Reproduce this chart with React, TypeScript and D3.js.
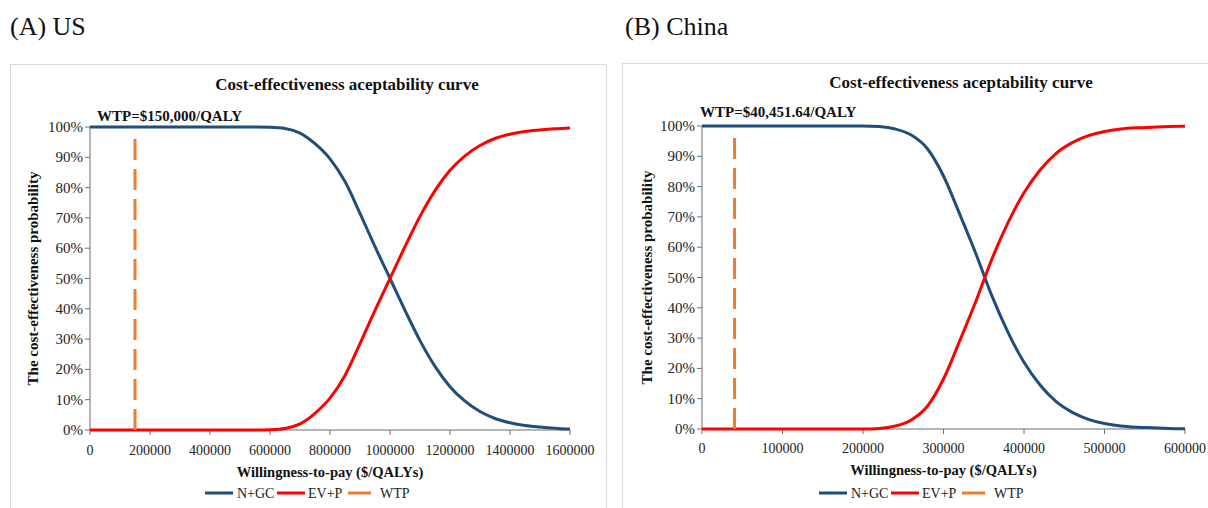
import React from "react";
import * as d3 from "d3";

// ---------- DATA ----------
const usWtp = [0, 50000, 100000, 150000, 200000, 250000, 300000, 350000, 400000, 450000, 500000, 550000, 600000, 650000, 700000, 750000, 800000, 850000, 900000, 950000, 1000000, 1050000, 1100000, 1150000, 1200000, 1250000, 1300000, 1350000, 1400000, 1450000, 1500000, 1550000, 1600000];
const usNGC = [1, 1, 1, 1, 1, 1, 1, 1, 1, 1, 1, 1, 0.999, 0.995, 0.98, 0.945, 0.895, 0.82, 0.715, 0.605, 0.5, 0.395, 0.295, 0.21, 0.143, 0.095, 0.061, 0.038, 0.024, 0.015, 0.01, 0.006, 0.003];
const usEVP = [0, 0, 0, 0, 0, 0, 0, 0, 0, 0, 0, 0, 0.001, 0.005, 0.02, 0.055, 0.105, 0.18, 0.285, 0.395, 0.5, 0.605, 0.705, 0.79, 0.857, 0.905, 0.939, 0.962, 0.976, 0.985, 0.99, 0.994, 0.997];

const cnWtp = [0, 20000, 40000, 60000, 80000, 100000, 120000, 140000, 160000, 180000, 200000, 220000, 240000, 260000, 280000, 300000, 320000, 340000, 360000, 380000, 400000, 420000, 440000, 460000, 480000, 500000, 520000, 540000, 560000, 580000, 600000];
const cnNGC = [1, 1, 1, 1, 1, 1, 1, 1, 1, 1, 1, 0.998, 0.99, 0.97, 0.925, 0.835, 0.71, 0.58, 0.44, 0.32, 0.22, 0.145, 0.09, 0.055, 0.032, 0.018, 0.01, 0.006, 0.004, 0.002, 0.001];
const cnEVP = [0, 0, 0, 0, 0, 0, 0, 0, 0, 0, 0, 0.002, 0.01, 0.03, 0.075, 0.165, 0.29, 0.42, 0.56, 0.68, 0.78, 0.855, 0.91, 0.945, 0.968, 0.982, 0.99, 0.994, 0.996, 0.998, 0.999];

const usThreshold = 150000;
const cnThreshold = 40451.64;
const wtpLineTop = 0.97;

const usXTicks = [0, 200000, 400000, 600000, 800000, 1000000, 1200000, 1400000, 1600000];
const cnXTicks = [0, 100000, 200000, 300000, 400000, 500000, 600000];
const yTicks = [0, 0.1, 0.2, 0.3, 0.4, 0.5, 0.6, 0.7, 0.8, 0.9, 1];

const seriesNames = ["N+GC", "EV+P", "WTP"];
const chartTitle = "Cost-effectiveness aceptability curve";
const xTitle = "Willingness-to-pay ($/QALYs)";
const yTitle = "The cost-effectiveness probability";

const BLUE = "#1f4e79";
const RED = "#ff0000";
const ORANGE = "#ed7d31";
const FONT = "'Liberation Serif', 'Times New Roman', serif";

type PanelProps = {
  label: string;
  labelX: number;
  box: { x: number; y: number; w: number; h: number };
  plot: { x0: number; x1: number; yTop: number; yBot: number };
  xMax: number;
  xTicks: number[];
  wtp: number[];
  ngc: number[];
  evp: number[];
  threshold: number;
  wtpText: string;
  titleX: number;
  titleY: number;
  wtpTextX: number;
  wtpTextY: number;
  yTitleX: number;
  legendX: number;
  xTickY: number;
  xTitleY: number;
  legendY: number;
};

function Panel(p: PanelProps) {
  const x = d3.scaleLinear().domain([0, p.xMax]).range([p.plot.x0, p.plot.x1]);
  const y = d3.scaleLinear().domain([0, 1]).range([p.plot.yBot, p.plot.yTop]);
  const line = d3
    .line<[number, number]>()
    .x((d) => x(d[0]))
    .y((d) => y(d[1]))
    .curve(d3.curveMonotoneX);
  const ngcPath = line(p.wtp.map((w, i) => [w, p.ngc[i]] as [number, number])) || "";
  const evpPath = line(p.wtp.map((w, i) => [w, p.evp[i]] as [number, number])) || "";
  const axisColor = "#6f6f6f";
  const yMid = (p.plot.yTop + p.plot.yBot) / 2;

  const lx = p.legendX;
  const ly = p.legendY;
  const items = [
    { color: BLUE, name: seriesNames[0], lineW: 28, gap: 4, textW: 40 },
    { color: RED, name: seriesNames[1], lineW: 28, gap: 3, textW: 40 },
    { color: ORANGE, name: seriesNames[2], lineW: 23, gap: 9, textW: 40 },
  ];
  let cur = lx;
  const legendEls = items.map((it) => {
    const start = cur;
    const textStart = start + it.lineW + it.gap;
    cur = textStart + it.textW;
    return (
      <g key={it.name}>
        <line x1={start} x2={start + it.lineW} y1={ly} y2={ly} stroke={it.color} strokeWidth={3} />
        <text x={textStart} y={ly + 5} fontSize={14} fontFamily={FONT} fill="#222">
          {it.name}
        </text>
      </g>
    );
  });

  return (
    <g>
      <text x={p.labelX} y={35} fontSize={26} fontFamily={FONT} fill="#111">
        {p.label}
      </text>
      <rect x={p.box.x + 0.5} y={p.box.y + 0.5} width={p.box.w} height={p.box.h} fill="#fff" stroke="#d9d9d9" strokeWidth={1} />
      <text x={p.titleX} y={p.titleY} textAnchor="middle" fontSize={17} fontWeight="bold" fontFamily={FONT} fill="#111">
        {chartTitle}
      </text>
      <text x={p.wtpTextX} y={p.wtpTextY} fontSize={15} fontWeight="bold" fontFamily={FONT} fill="#111">
        {p.wtpText}
      </text>
      {/* y axis */}
      <line x1={p.plot.x0} x2={p.plot.x0} y1={p.plot.yTop} y2={p.plot.yBot} stroke={axisColor} strokeWidth={1} />
      {yTicks.map((t) => (
        <g key={"y" + t}>
          <line x1={p.plot.x0 - 5} x2={p.plot.x0} y1={y(t)} y2={y(t)} stroke={axisColor} />
          <text x={p.plot.x0 - 7} y={y(t) + 5} textAnchor="end" fontSize={15} fontFamily={FONT} fill="#222">
            {d3.format(".0%")(t)}
          </text>
        </g>
      ))}
      {/* x axis */}
      <line x1={p.plot.x0} x2={p.plot.x1} y1={p.plot.yBot} y2={p.plot.yBot} stroke={axisColor} strokeWidth={1} />
      {p.xTicks.map((t) => (
        <g key={"x" + t}>
          <line x1={x(t)} x2={x(t)} y1={p.plot.yBot} y2={p.plot.yBot + 5} stroke={axisColor} />
          <text x={x(t)} y={p.xTickY} textAnchor="middle" fontSize={14} fontFamily={FONT} fill="#222">
            {String(t)}
          </text>
        </g>
      ))}
      <text x={(p.plot.x0 + p.plot.x1) / 2} y={p.xTitleY} textAnchor="middle" fontSize={14.5} fontWeight="bold" fontFamily={FONT} fill="#111">
        {xTitle}
      </text>
      <text
        transform={`translate(${p.yTitleX},${yMid}) rotate(-90)`}
        textAnchor="middle"
        fontSize={15}
        fontWeight="bold"
        fontFamily={FONT}
        fill="#111"
      >
        {yTitle}
      </text>
      {/* series */}
      <path d={ngcPath} fill="none" stroke={BLUE} strokeWidth={3} />
      <path d={evpPath} fill="none" stroke={RED} strokeWidth={3} />
      <line
        x1={x(p.threshold)}
        x2={x(p.threshold)}
        y1={y(0)}
        y2={y(wtpLineTop)}
        stroke={ORANGE}
        strokeWidth={3}
        strokeDasharray="21,9"
      />
      {legendEls}
    </g>
  );
}

export default function App() {
  return (
    <svg width={1208} height={508} style={{ display: "block", position: "absolute", left: 0, top: 0 }}>
      <rect x={0} y={0} width={1208} height={508} fill="#fff" />
      <Panel
        label="(A) US"
        labelX={10}
        box={{ x: 10, y: 64, w: 596, h: 460 }}
        plot={{ x0: 90, x1: 570, yTop: 127, yBot: 430 }}
        xMax={1600000}
        xTicks={usXTicks}
        wtp={usWtp}
        ngc={usNGC}
        evp={usEVP}
        threshold={usThreshold}
        wtpText="WTP=$150,000/QALY"
        titleX={347}
        titleY={90}
        wtpTextX={97}
        wtpTextY={121}
        yTitleX={38}
        legendX={205}
        xTickY={455}
        xTitleY={477}
        legendY={493}
      />
      <Panel
        label="(B) China"
        labelX={625}
        box={{ x: 622, y: 63, w: 600, h: 460 }}
        plot={{ x0: 702, x1: 1185, yTop: 126, yBot: 429 }}
        xMax={600000}
        xTicks={cnXTicks}
        wtp={cnWtp}
        ngc={cnNGC}
        evp={cnEVP}
        threshold={cnThreshold}
        wtpText="WTP=$40,451.64/QALY"
        titleX={961}
        titleY={88}
        wtpTextX={700}
        wtpTextY={117}
        yTitleX={652}
        legendX={819}
        xTickY={453}
        xTitleY={475}
        legendY={493}
      />
    </svg>
  );
}
